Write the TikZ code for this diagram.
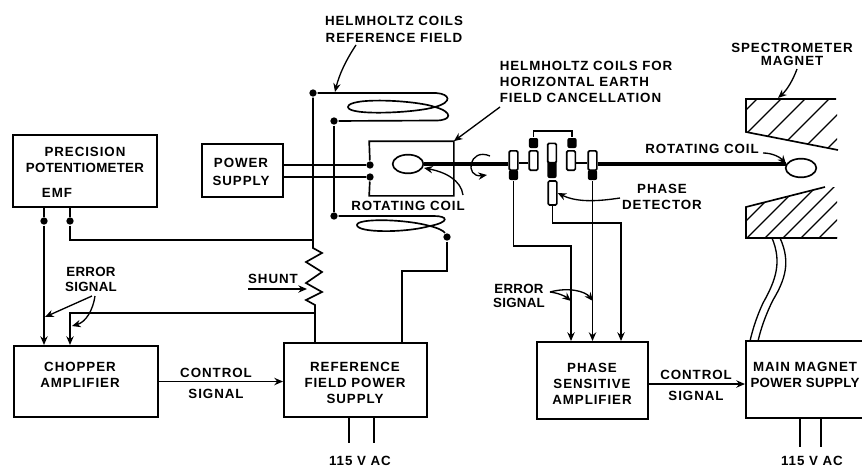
\documentclass[tikz,border=0pt]{standalone}
\usepackage{fontspec}
\setmainfont[LetterSpace=7]{Liberation Sans}
\usetikzlibrary{arrows.meta,shapes.geometric}
\newcommand{\tight}{\addfontfeature{LetterSpace=2}}

\begin{document}
\begin{tikzpicture}
    [x=0.75pt, y=-0.75pt, line width=1.25pt, >={Stealth[length=6.5pt,width=5.5pt]},
    block/.style={rectangle, draw, inner sep=0pt, line width=1.5pt},
    lettering/.style={font=\bfseries\fontsize{10}{12}\selectfont, align=center, inner sep=0pt},
    dot/.style={circle, fill=black, inner sep=0pt, minimum size=5.5pt},
    coil/.style={ellipse, draw, inner sep=0pt, minimum width=23pt, minimum height=14pt},
    ring/.style={rectangle, rounded corners=1pt, draw, fill=white, inner sep=0pt, minimum width=6.5pt, minimum height=14.5pt},
    blob/.style={rectangle, rounded corners=1.5pt, fill=black, inner sep=0pt, minimum width=7pt, minimum height=7.5pt},
    shaft/.style={line width=2.5pt},
    leader/.style={line width=1pt, ->}]

    \clip (0,0) rectangle (862,467);

    % Blocks
    \node[block, minimum width=108pt, minimum height=54pt] (potentiometer) at (85,171) {};
    \node[block, minimum width=60.75pt, minimum height=39.75pt] (power) at (242.5,170.5) {};
    \node[block, minimum width=108pt, minimum height=53.25pt] (chopper) at (86,381.5) {};
    \node[block, minimum width=107.25pt, minimum height=55.5pt] (reference) at (355.5,380) {};
    \node[block, minimum width=83.25pt, minimum height=57.75pt] (phase) at (592.5,380.5) {};
    \node[block, minimum width=90pt, minimum height=57.75pt] (main) at (806,379.5) {};
    \node[minimum width=62.25pt, minimum height=39.75pt, inner sep=0pt] (horizontal) at (411.5,168.5) {};

    % Block labels
    \node[lettering] (potlabel) at (85,159.5) {PRECISION\\{\tight POTENTIOMETER}};
    \node[lettering] (emflabel) at (57,193) {EMF};
    \node[lettering] (powerlabel) at (241,172) {POWER\\[1.5pt]SUPPLY};
    \node[lettering] (chopperlabel) at (80,375) {CHOPPER\\AMPLIFIER};
    \node[lettering] (reflabel) at (355,383) {REFERENCE\\FIELD POWER\\SUPPLY};
    \node[lettering] (phaselabel) at (592,383.5) {PHASE\\SENSITIVE\\AMPLIFIER};
    \node[lettering] (mainlabel) at (805,375) {MAIN MAGNET\\{\tight POWER SUPPLY}};

    % Other labels
    \node[lettering] (reffield) at (394,29.5) {HELMHOLTZ COILS\\[0.8pt]REFERENCE FIELD};
    \node[lettering, align=left, anchor=west] (horfield) at (499,82) {HELMHOLTZ COILS FOR\\HORIZONTAL EARTH\\FIELD CANCELLATION};
    \node[lettering, font=\bfseries\fontsize{10}{10}\selectfont] (magnetlabel) at (792,54.5) {SPECTROMETER\\MAGNET};
    \node[lettering] (rotleft) at (408,206) {ROTATING COIL};
    \node[lettering] (rotright) at (702,149) {ROTATING COIL};
    \node[lettering] (detlabel) at (662,196.5) {PHASE\\DETECTOR};
    \node[lettering, font=\bfseries\tight\fontsize{10}{11}\selectfont] (errleft) at (91,279.5) {ERROR\\SIGNAL};
    \node[lettering, font=\bfseries\tight\fontsize{10}{11}\selectfont] (errright) at (519,296) {ERROR\\SIGNAL};
    \node[lettering] (shuntlabel) at (273,279) {SHUNT};
    \node[lettering] (ctrlleft) at (216,383.5) {CONTROL\\[3.5pt]SIGNAL};
    \node[lettering] (ctrlright) at (696,385.5) {CONTROL\\[3.5pt]SIGNAL};
    \node[lettering] (acleft) at (360,461) {115 V AC};
    \node[lettering] (acright) at (812,461) {115 V AC};

    % Junction dots
    \node[dot] (refa) at (313,93) {};
    \node[dot] (refb) at (334,121) {};
    \node[dot] (refc) at (334,216) {};
    \node[dot] (refd) at (447,237) {};
    \node[dot] (hora) at (370,165) {};
    \node[dot] (horb) at (370,177) {};
    \node[dot] (emfa) at (44,221) {};
    \node[dot] (emfb) at (70,221) {};

    \coordinate (shunttop) at (313,240);
    \coordinate (shuntbot) at (315,305);
    \coordinate (errjoin) at (315,313);
    \coordinate (refbend) at (402,271);
    \coordinate (benda) at (571,246);
    \coordinate (bendc) at (621,223);

    % Rotating coil and slip rings
    \node[coil] (coilleft) at (408,164) {};
    \node[coil] (coilright) at (801,168) {};
    \node[blob] (blobA) at (513.5,175) {};
    \node[blob] (blobB) at (533.5,143) {};
    \node[blob] (blobC) at (572,143) {};
    \node[blob] (blobD) at (592.5,175) {};
    \node[blob, minimum height=13.5pt] (blobM) at (552,169) {};
    \node[ring] (ringA) at (513.5,160.5) {};
    \node[ring] (ringB) at (533.5,160.5) {};
    \node[ring] (ringM) at (552,153) {};
    \node[ring] (ringC) at (571,160.5) {};
    \node[ring] (ringD) at (592.5,160.5) {};
    \node[ring, minimum height=18pt] (detector) at (552.5,193) {};

    \draw[shaft] (coilleft.east |- 0,164) -- (ringA.west |- 0,164);
    \draw[shaft] (ringD.east |- 0,164) -- (786,164);
    \draw (ringA.east |- 0,163) -- (ringB.west |- 0,163);
    \draw (ringC.east |- 0,163) -- (ringD.west |- 0,163);
    \draw (blobB.north) |- (blobC.north |- 0,131) -- (blobC.north);

    % Horizontal field coils
    \draw (hora) -- (horizontal.north west) -- (horizontal.north east) -- (horizontal.south east) -- (horizontal.south west) -- (horb);
    \draw (power.east |- hora) -- (hora);
    \draw (power.east |- horb) -- (horb);

    % Reference field coils
    \draw (refa) -- (436,93) .. controls (450,94) and (453,102) .. (435,107)
        .. controls (415,113) and (348,116) .. (348,107)
        .. controls (348,97) and (415,100) .. (435,107)
        .. controls (453,112) and (452,120.5) .. (436,120.5) -- (refb);
    \draw (refb) -- (refc);
    \draw (refc) -- (434,216) .. controls (448,216) and (450,222) .. (430,226)
        .. controls (405,233) and (357,233) .. (357,225)
        .. controls (357,218) and (405,219) .. (430,226)
        .. controls (438,228) and (444,231) .. (refd);
    \draw (refd) |- (refbend) -- (refbend |- reference.north);

    % Shunt
    \draw (refa) -- (shunttop) -- ++(0,8) -- ++(9,5) -- ++(-16,9) -- ++(16,10) -- ++(-16,11)
        -- ++(16,9) -- ++(-16,8) -- (shuntbot) -- (shuntbot |- reference.north);

    % Error loop
    \draw (emfa |- potentiometer.south) -- (emfa);
    \draw (emfb |- potentiometer.south) -- (emfb);
    \draw[->] (emfa) -- (emfa |- chopper.north);
    \draw (emfb) |- (shunttop);
    \draw[->] (errjoin) -| (emfb |- chopper.north);

    % Phase detector wiring
    \draw[->] (blobA.south) |- (benda) -- (benda |- phase.north);
    \draw[->] (blobD.south) -- (blobD |- phase.north);
    \draw[->] (detector.south) |- (bendc) -- (bendc |- phase.north);

    % Control signals and mains
    \draw[->] (chopper.east) -- (chopper.east -| reference.west);
    \draw[->] (phase.east |- 0,384) -- (main.west |- 0,384);
    \draw (349,417) -- (349,443);
    \draw (374,417) -- (374,443);
    \draw (800,418) -- (800,447);
    \draw (821,418) -- (821,447);

    % Magnet poles
    \begin{scope}
        \clip (746,99) -- (837,99) -- (837,150) -- (746,132) -- cycle;
        \foreach \c in {856,880,904,928,952,976}
            \draw[line width=0.9pt] (\c-760,760) -- (\c-40,40);
    \end{scope}
    \begin{scope}
        \clip (746,207) -- (825,187) -- (837,187) -- (837,238) -- (746,238) -- cycle;
        \foreach \c in {967,985,1003,1021,1039,1057,1075}
            \draw[line width=0.9pt] (\c-400,400) -- (\c-40,40);
    \end{scope}
    \draw (836,99) -- (746,99) -- (746,132) -- (838,150);
    \draw (825,187) -- (746,207) -- (746,238) -- (837,238);

    % Magnet leads
    \draw[line width=1pt] (772,238) .. controls (782,262) and (776,280) .. (763,303) .. controls (757,316) and (753,328) .. (750,341);
    \draw[line width=1pt] (780,238) .. controls (791,262) and (785,280) .. (773,300) .. controls (766,314) and (761,328) .. (758,341);

    % Leaders
    \draw[leader] (248,289) -- (307,289);
    \draw[leader] (356,45) .. controls (346,60) and (339,75) .. (335,92);
    \draw[leader] (500,107) -- (horizontal.north east);
    \draw[leader] (463,195) .. controls (461,180) and (445,172) .. (424,168);
    \draw[leader] (763,153) .. controls (772,153) and (780,157) .. (786,164);
    \draw[leader] (797,69) .. controls (793,80) and (787,90) .. (778,98);
    \draw[leader] (620,198) .. controls (600,201) and (578,203) .. (detector.east);
    \draw[leader] (92,296) -- (45,317);
    \draw[leader] (95,296) .. controls (93,310) and (86,322) .. (72,326);
    \draw[leader] (550,292) .. controls (558,293) and (565,296) .. (571,301);
    \draw[leader] (550,292) .. controls (568,287) and (585,291) .. (593,301);
    \draw[leader] (490,156) .. controls (469,147) and (464,178) .. (487,175);
\end{tikzpicture}
\end{document}
